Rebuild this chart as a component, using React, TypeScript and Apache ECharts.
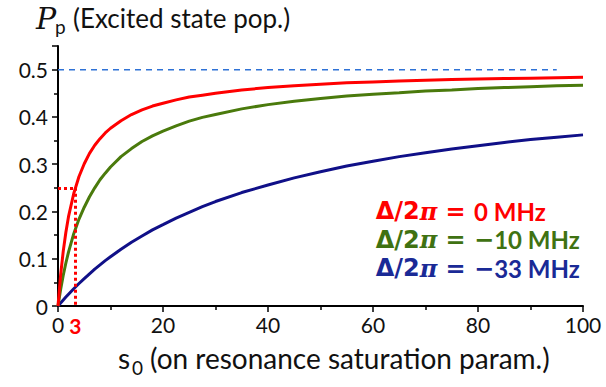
import React, { useEffect, useRef } from "react";
import * as echarts from "echarts";

const s0 = [0, 0.5, 1, 1.5, 2, 3, 4, 5, 6, 7, 8, 9, 10, 12, 14, 16, 18, 20, 22.5, 25, 27.5, 30, 35, 40, 45, 50, 55, 60, 65, 70, 75, 80, 85, 90, 95, 100];
const red = [0, 0.066, 0.116, 0.156, 0.189, 0.238, 0.274, 0.301, 0.323, 0.34, 0.354, 0.366, 0.376, 0.392, 0.405, 0.415, 0.423, 0.429, 0.436, 0.442, 0.446, 0.45, 0.457, 0.462, 0.466, 0.469, 0.472, 0.474, 0.476, 0.4775, 0.479, 0.48, 0.481, 0.482, 0.483, 0.484];
const green = [0, 0.035, 0.065, 0.091, 0.114, 0.153, 0.184, 0.209, 0.231, 0.25, 0.267, 0.281, 0.294, 0.316, 0.333, 0.348, 0.36, 0.37, 0.381, 0.391, 0.399, 0.405, 0.417, 0.426, 0.433, 0.439, 0.444, 0.448, 0.451, 0.455, 0.457, 0.46, 0.462, 0.464, 0.466, 0.467];
const blue = [0, 0.0065, 0.0128, 0.019, 0.025, 0.0366, 0.0476, 0.058, 0.068, 0.078, 0.087, 0.096, 0.104, 0.12, 0.135, 0.148, 0.161, 0.172, 0.186, 0.198, 0.21, 0.221, 0.24, 0.256, 0.271, 0.284, 0.296, 0.306, 0.316, 0.324, 0.332, 0.339, 0.346, 0.352, 0.357, 0.362];
const limitLine = [[0, 0.5], [95, 0.5]];
const guideS0 = 3.3;
const guideP = 0.25;
const legendSigns = ["", "\u2212", "\u2212"];
const legendValues = ["0", "10", "33"];
const colors = ["#ff0000", "#4a7a0c", "#101088"];
const textColors = ["#ff0000", "#3f7212", "#1a2a96"];
const FONT = "Lato";

const pairs = (ys: number[]) => s0.map((x, i) => [x, ys[i]]);

export default function App() {
  const ref = useRef<HTMLDivElement>(null);
  useEffect(() => {
    const chart = echarts.init(ref.current!, null, { renderer: "svg" });
    const axisCommon = {
      axisLine: { show: true, onZero: false, lineStyle: { color: "#000", width: 2 } },
      axisTick: { show: true, length: 6, inside: false, lineStyle: { color: "#000", width: 1.5 } },
      minorTick: { show: true, splitNumber: 2, length: 4, lineStyle: { color: "#000", width: 1.5 } },
      splitLine: { show: false },
      axisLabel: { color: "#111", fontFamily: FONT, fontSize: 21 },
    };
    const series: any[] = [red, green, blue].map((d, i) => ({
      type: "line",
      data: pairs(d),
      smooth: false,
      showSymbol: false,
      symbol: "none",
      lineStyle: { color: colors[i], width: 3 },
      z: 3 - i + 2,
    }));
    series.push({
      type: "line",
      data: limitLine,
      showSymbol: false,
      symbol: "none",
      lineStyle: { color: "#2f72d6", width: 1.5, type: [6, 5] },
      z: 1,
    });
    series[0].markLine = {
      silent: true,
      symbol: "none",
      label: { show: false },
      lineStyle: { color: "#ff0000", width: 3, type: [3, 3] },
      data: [
        [{ coord: [0, guideP] }, { coord: [guideS0, guideP] }],
        [{ coord: [guideS0, guideP] }, { coord: [guideS0, 0] }],
      ],
    };
    const option: any = {
      animation: false,
      grid: { left: 58, right: 23, top: 46, bottom: 81 },
      xAxis: {
        type: "value",
        min: 0,
        max: 100,
        interval: 20,
        ...axisCommon,
        axisLabel: { ...axisCommon.axisLabel, margin: 8 },
      },
      yAxis: {
        type: "value",
        min: 0,
        max: 0.55,
        interval: 0.1,
        ...axisCommon,
        axisLabel: {
          ...axisCommon.axisLabel,
          margin: 10,
          formatter: (v: number) => (v === 0 ? "0" : v > 0.52 ? "" : v.toFixed(1)),
        },
      },
      series,
    };
    chart.setOption(option);
    const p3 = chart.convertToPixel({ gridIndex: 0 }, [guideS0, 0]) as number[];
    const legendX = chart.convertToPixel({ gridIndex: 0 }, [60.5, 0]) as number[];
    const ly = [0.2, 0.14, 0.08].map((v) => (chart.convertToPixel({ gridIndex: 0 }, [0, v]) as number[])[1]);
    chart.setOption({
      graphic: [
        { type: "text", left: 36, top: 3, style: { text: "P", font: "italic 30px 'DejaVu Serif'", fill: "#111" } },
        { type: "text", left: 55, top: 17, style: { text: "p", font: "19px " + FONT, fill: "#111" } },
        { type: "text", left: 73, top: 5, style: { text: "(Excited state pop.)", font: "26px " + FONT, fill: "#111" } },
        { type: "text", x: p3[0], y: p3[1] + 9, style: { text: "3", font: "bold 21px " + FONT, fill: "#ff0000", align: "center", verticalAlign: "top" } },
        { type: "text", left: 118, top: 344, style: { text: "s", font: "28px " + FONT, fill: "#111" } },
        { type: "text", left: 132, top: 358, style: { text: "0", font: "19px " + FONT, fill: "#111" } },
        { type: "text", left: 150, top: 344, style: { text: "(on resonance saturation param.)", font: "28px " + FONT, fill: "#111" } },
        ...legendValues.map((t, i) => ({
          type: "text",
          x: legendX[0],
          y: ly[i],
          style: {
            text: "{d|\u0394/2}{pi|\u03c0}{eq| = " + legendSigns[i] + "}{r|" + t + " MHz}",
            verticalAlign: "middle",
            fill: textColors[i],
            rich: {
              d: { font: "bold 24px 'DejaVu Sans'", fill: textColors[i] },
              pi: { font: "bold italic 24px 'DejaVu Serif'", fill: textColors[i] },
              eq: { font: "bold 24px 'DejaVu Serif'", fill: textColors[i] },
              r: { font: "bold 24px " + FONT, fill: textColors[i] },
            },
          },
        })),
      ],
    });
    return () => chart.dispose();
  }, []);
  return <div ref={ref} style={{ width: 606, height: 387, position: "absolute", left: 0, top: 0 }} />;
}
